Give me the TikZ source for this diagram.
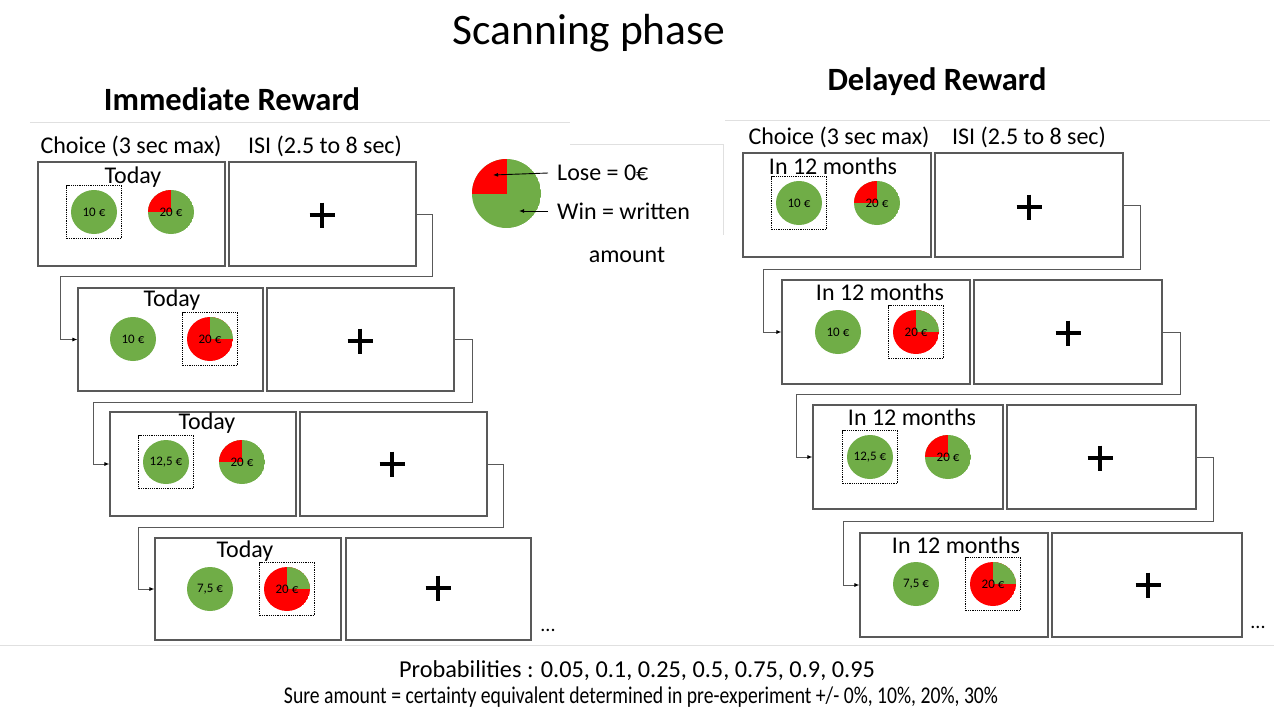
\documentclass[tikz,border=0pt]{standalone}
\usepackage{fontspec}
\setmainfont{Carlito}
\usetikzlibrary{fit,shapes.geometric,arrows.meta}
\definecolor{pgreen}{HTML}{70AD47}
\definecolor{pred}{HTML}{FF0000}
\definecolor{boxgray}{HTML}{595959}
\newcommand{\fsz}[1]{\fontsize{#1}{#1}\selectfont}
\newcommand{\sureat}[4]{%
  \fill[pgreen] (#2,#3) ellipse (23pt and 22pt);
  \node[lot] (#1) at (#2,#3) {#4};}
\newcommand{\lotminor}[3]{%
  \begin{scope}
    \clip (#2,#3) ellipse (23pt and 22pt);
    \fill[pgreen] (#2,#3) ellipse (23pt and 22pt);
    \fill[pred] (#2,#3) rectangle ++(-30,-30);
  \end{scope}
  \node[lot] (#1) at (#2,#3) {20 €};}
\newcommand{\lotmajor}[3]{%
  \begin{scope}
    \clip (#2,#3) ellipse (23pt and 22pt);
    \fill[pred] (#2,#3) ellipse (23pt and 22pt);
    \fill[pgreen] (#2,#3) rectangle ++(30,-30);
  \end{scope}
  \node[lot] (#1) at (#2,#3) {20 €};}
\newcommand{\plusat}[2]{%
  \draw[plusl] (#1-12.5,#2) -- (#1+12.5,#2) (#1,#2-12.5) -- (#1,#2+12.5);}
\tikzset{
  box/.style={draw=boxgray, line width=1.1pt, inner sep=0pt},
  txt/.style={font=\fsz{24}, inner sep=0pt},
  lot/.style={rectangle, minimum width=46pt, minimum height=44pt, inner sep=0pt, font=\fsz{13}},
  chosen/.style={draw, densely dotted, line width=1.2pt, inner sep=4pt},
  conn/.style={draw=boxgray, line width=1pt, -{Latex[length=5pt,width=4pt,black]}},
  larr/.style={draw=black, line width=0.9pt, -{Latex[length=5pt,width=4pt]}},
  plusl/.style={line width=3.8pt},
  faint/.style={draw=black!12, line width=0.8pt}
}
\begin{document}
\begin{tikzpicture}[x=1pt,y=-1pt]
\useasboundingbox (0,0) rectangle (1274,713);
\fill[white] (0,0) rectangle (1274,713);
% faint frame lines
\draw[faint] (30,122) -- (570,122);
\draw[faint] (725,120) -- (1270,120);
\draw[faint] (570,144) -- (723,144) -- (723,235);
\draw[faint] (0,645) -- (1274,645);
% titles
\node[font=\fsz{43.5}] (title) at (589,33) {Scanning phase};
\node[font=\bfseries\fsz{32.5}] (imm) at (232,99) {Immediate Reward};
\node[font=\bfseries\fsz{32.5}] (del) at (937,82) {Delayed Reward};
% headers
\node[txt] (Lh1) at (131,146) {Choice (3 sec max)};
\node[txt] (Lh2) at (325,146) {ISI (2.5 to 8 sec)};
\node[txt] (Rh1) at (839,137) {Choice (3 sec max)};
\node[txt] (Rh2) at (1029,137) {ISI (2.5 to 8 sec)};
% ===== LEFT =====
% row 1
\node[box, fit={(38,162) (225,266)}] (Lc1) {};
\node[box, fit={(229,162) (416,266)}] (Li1) {};
\node[txt] (Ld1) at (133,177) {Today};
\sureat{Ls1}{94}{212}{10 €}
\node[chosen, fit=(Ls1)] (Lk1) {};
\lotminor{Lp1}{171}{212}
\plusat{322}{215}
% row 2
\node[box, fit={(78,288) (263,391)}] (Lc2) {};
\node[box, fit={(267,288) (454,391)}] (Li2) {};
\node[txt] (Ld2) at (172,300) {Today};
\sureat{Ls2}{133}{339}{10 €}
\lotmajor{Lp2}{210}{339}
\node[chosen, fit=(Lp2)] (Lk2) {};
\plusat{360}{341}
% row 3
\node[box, fit={(110,412) (296,516)}] (Lc3) {};
\node[box, fit={(300,412) (487,516)}] (Li3) {};
\node[txt] (Ld3) at (207,423) {Today};
\sureat{Ls3}{166}{462}{12,5 €}
\node[chosen, fit=(Ls3)] (Lk3) {};
\lotminor{Lp3}{242}{462}
\plusat{392}{464}
% row 4
\node[box, fit={(155,538) (341,640)}] (Lc4) {};
\node[box, fit={(346,538) (531,640)}] (Li4) {};
\node[txt] (Ld4) at (245,551) {Today};
\sureat{Ls4}{210}{589}{7,5 €}
\lotmajor{Lp4}{287}{589}
\node[chosen, fit=(Lp4)] (Lk4) {};
\plusat{438}{588}
\node[font=\fsz{20}] (Ldots) at (548,630) {...};
% left connectors
\coordinate (La1) at (432,276); \coordinate (Lb1) at (60,276);
\draw[conn] (Li1.east) -| (La1) -- (Lb1) |- (Lc2.west);
\coordinate (La2) at (472,402); \coordinate (Lb2) at (93,402);
\draw[conn] (Li2.east) -| (La2) -- (Lb2) |- (Lc3.west);
\coordinate (La3) at (503,527); \coordinate (Lb3) at (138,527);
\draw[conn] (Li3.east) -| (La3) -- (Lb3) |- (Lc4.west);
% ===== RIGHT =====
% row 1
\node[box, fit={(743,153) (931,257)}] (Rc1) {};
\node[box, fit={(935,153) (1123,257)}] (Ri1) {};
\node[txt] (Rd1) at (833,166) {In 12 months};
\sureat{Rs1}{799}{203}{10 €}
\node[chosen, fit=(Rs1)] (Rk1) {};
\lotminor{Rp1}{877}{203}
\plusat{1029}{207}
% row 2
\node[box, fit={(782,280) (970,384)}] (Rc2) {};
\node[box, fit={(974,280) (1162,384)}] (Ri2) {};
\node[txt] (Rd2) at (880,292) {In 12 months};
\sureat{Rs2}{838}{332}{10 €}
\lotmajor{Rp2}{916}{332}
\node[chosen, fit=(Rp2)] (Rk2) {};
\plusat{1068}{333}
% row 3
\node[box, fit={(813,405) (1003,509)}] (Rc3) {};
\node[box, fit={(1007,405) (1196,509)}] (Ri3) {};
\node[txt] (Rd3) at (912,417) {In 12 months};
\sureat{Rs3}{870}{457}{12,5 €}
\node[chosen, fit=(Rs3)] (Rk3) {};
\lotminor{Rp3}{948}{457}
\plusat{1100}{458}
% row 4
\node[box, fit={(860,533) (1048,637)}] (Rc4) {};
\node[box, fit={(1052,533) (1242,637)}] (Ri4) {};
\node[txt] (Rd4) at (956,545) {In 12 months};
\sureat{Rs4}{916}{584}{7,5 €}
\lotmajor{Rp4}{993}{584}
\node[chosen, fit=(Rp4)] (Rk4) {};
\plusat{1148}{585}
\node[font=\fsz{20}] (Rdots) at (1258,627) {...};
% right connectors
\coordinate (Ra1) at (1140,269); \coordinate (Rb1) at (763,269);
\draw[conn] (Ri1.east) -| (Ra1) -- (Rb1) |- (Rc2.west);
\coordinate (Ra2) at (1180,394); \coordinate (Rb2) at (796,394);
\draw[conn] (Ri2.east) -| (Ra2) -- (Rb2) |- (Rc3.west);
\coordinate (Ra3) at (1213,521); \coordinate (Rb3) at (843,521);
\draw[conn] (Ri3.east) -| (Ra3) -- (Rb3) |- (Rc4.west);
% ===== LEGEND =====
\coordinate (G) at (506.5,193.5);
\begin{scope}
  \clip (G) circle (34.5pt);
  \fill[pgreen] (G) circle (34.5pt);
  \fill[pred] (G) rectangle ++(-40,-40);
\end{scope}
\node[anchor=west, txt] (lose) at (557,173) {Lose = 0€};
\node[anchor=west, txt] (win) at (557,211) {Win = written};
\node[txt] (amt) at (627,255) {amount};
\coordinate (lp) at (493,175);
\coordinate (wp) at (519,211);
\draw[larr] ([xshift=-9pt]lose.west) -- (lp);
\draw[larr] ([xshift=-9pt]win.west) -- (wp);
% ===== BOTTOM =====
\node[font=\fsz{24.3}] (prob) at (637,671) {Probabilities : 0.05, 0.1, 0.25, 0.5, 0.75, 0.9, 0.95};
\node[font=\fsz{24}] (sure) at (641,697) {\scalebox{0.82}[1]{Sure amount = certainty equivalent determined in pre-experiment +/- 0\%, 10\%, 20\%, 30\%}};
\end{tikzpicture}
\end{document}
